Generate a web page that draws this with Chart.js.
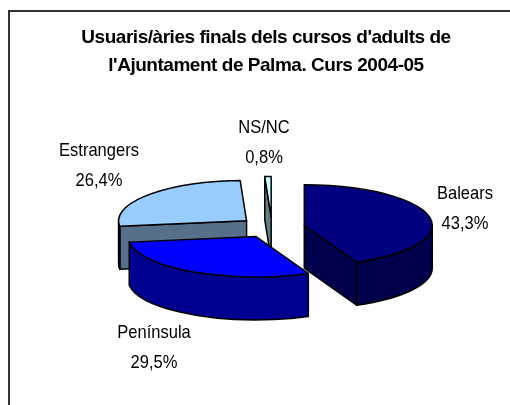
<!DOCTYPE html>
<html><head><meta charset="utf-8">
<style>html,body{margin:0;padding:0;background:#fff}canvas{display:block}</style>
<script src="https://cdn.jsdelivr.net/npm/chart.js@4/dist/chart.umd.min.js"></script>
</head><body><canvas id="c" width="510" height="405"></canvas>
<script>
const categories = ['Balears', 'Península', 'Estrangers', 'NS/NC'];
const values = [43.3, 29.5, 26.4, 0.8];
const valueLabels = ['43,3%', '29,5%', '26,4%', '0,8%'];
const titleLines = ["Usuaris/àries finals dels cursos d'adults de", "l'Ajuntament de Palma. Curs 2004-05"];
const topColors = ['#000080', '#0000ff', '#99ccff', '#ccffff'];
const wallColors = ['#00004d', '#000090', '#56708c', '#5f7f80'];

const FONT = '"Liberation Sans", Arial, sans-serif';
const view = {squash: 0.316, depth: 43, explode: 33, dx: 6, dy: 0, radius: 128};
const labelAnchors = [[465, 199], [154, 338], [99, 156], [264, 133]];

const pie3d = {
  id: 'pie3d',
  beforeDraw(chart) {
    const g = chart.ctx;
    g.letterSpacing = '-0.47px';
    g.save();
    g.fillStyle = '#fff';
    g.fillRect(0, 0, 510, 405);
    g.strokeStyle = '#333';
    g.lineWidth = 2;
    g.beginPath();
    g.moveTo(9, 405); g.lineTo(9, 11); g.lineTo(510, 11);
    g.stroke();
    g.restore();
  },
  beforeDatasetDraw(chart, args) {
    const g = chart.ctx;
    const k = view.squash, D = view.depth;
    const arcs = args.meta.data.map((el, i) => ({el, i, mid: (el.startAngle + el.endAngle) / 2}));
    arcs.sort((a, b) => Math.sin(a.mid) - Math.sin(b.mid));
    g.save();
    g.lineWidth = 1.5;
    g.lineJoin = 'round';
    g.strokeStyle = '#000';
    for (const {el, i, mid} of arcs) {
      const r = el.outerRadius, a0 = el.startAngle, a1 = el.endAngle;
      const cx = el.x + view.dx + Math.cos(mid) * view.explode;
      const cy = el.y + view.dy + Math.sin(mid) * view.explode * k;
      const px = a => cx + Math.cos(a) * r, py = a => cy + Math.sin(a) * r * k;
      g.fillStyle = wallColors[i];
      const quad = a => {
        g.beginPath();
        g.moveTo(cx, cy); g.lineTo(px(a), py(a));
        g.lineTo(px(a), py(a) + D); g.lineTo(cx, cy + D);
        g.closePath(); g.fill(); g.stroke();
      };
      if (-Math.cos(a0) > 0.001) quad(a0);
      if (Math.cos(a1) > 0.001) quad(a1);
      const w0 = Math.max(a0, 0), w1 = Math.min(a1, Math.PI);
      if (w1 > w0) {
        g.beginPath();
        g.ellipse(cx, cy, r, r * k, 0, w0, w1);
        g.lineTo(px(w1), py(w1) + D);
        g.ellipse(cx, cy + D, r, r * k, 0, w1, w0, true);
        g.closePath(); g.fill(); g.stroke();
      }
      g.fillStyle = el.options.backgroundColor;
      g.beginPath();
      g.moveTo(cx, cy);
      g.ellipse(cx, cy, r, r * k, 0, a0, a1);
      g.closePath(); g.fill(); g.stroke();
    }
    g.restore();
    return false;
  },
  afterDatasetsDraw(chart) {
    const g = chart.ctx;
    g.save();
    g.fillStyle = '#000';
    g.textAlign = 'center';
    g.textBaseline = 'alphabetic';
    g.font = '19px ' + FONT;
    g.letterSpacing = '0px';
    categories.forEach((name, i) => {
      const [x, y] = labelAnchors[i];
      g.save();
      g.translate(x, y);
      g.scale(0.87, 1);
      g.fillText(name, 0, 0);
      g.fillText(valueLabels[i], 0, 29.5);
      g.restore();
    });
    g.restore();
  }
};

new Chart(document.getElementById('c'), {
  type: 'pie',
  data: {labels: categories, datasets: [{data: values, backgroundColor: topColors, radius: view.radius, borderWidth: 0}]},
  plugins: [pie3d],
  options: {
    responsive: false,
    animation: false,
    layout: {padding: {left: 22, right: 0, top: 0, bottom: 30}},
    plugins: {
      legend: {display: false},
      tooltip: {enabled: false},
      title: {
        display: true,
        text: titleLines,
        color: '#000',
        font: {family: FONT, size: 19, weight: 'bold', lineHeight: 1.47},
        padding: {top: 24, bottom: 0}
      }
    }
  }
});
</script></body></html>
